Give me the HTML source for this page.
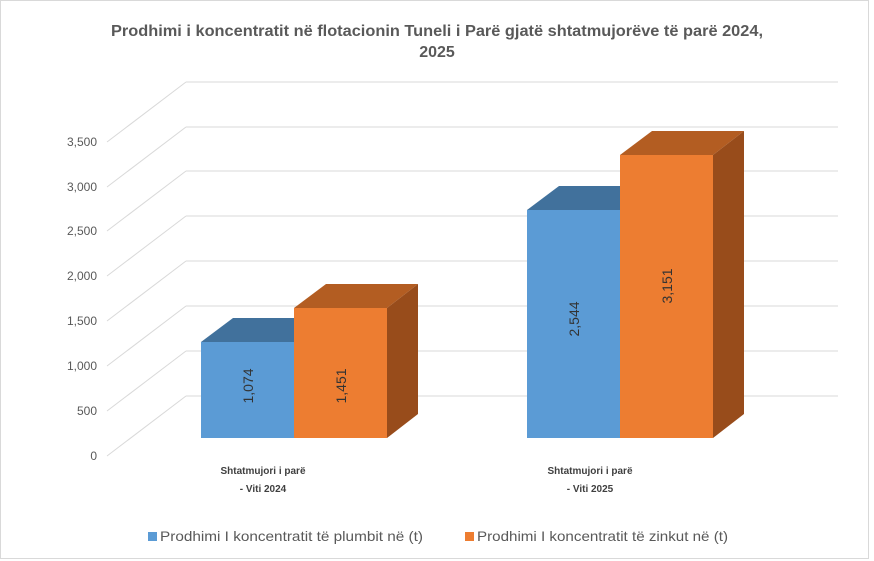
<!DOCTYPE html>
<html><head><meta charset="utf-8"><style>
html,body{margin:0;padding:0;background:#fff;}
svg{display:block;font-family:"Liberation Sans",sans-serif;}
</style></head><body>
<svg width="874" height="561" viewBox="0 0 874 561">
<rect x="0.5" y="0.5" width="868" height="558" fill="#fff" stroke="#d9d9d9"/>
<text x="437" y="36" text-anchor="middle" font-size="16" font-weight="bold" fill="#595959" textLength="652" lengthAdjust="spacingAndGlyphs">Prodhimi i koncentratit në flotacionin Tuneli i Parë gjatë shtatmujorëve të parë 2024,</text>
<text x="437" y="57" text-anchor="middle" font-size="16" font-weight="bold" fill="#595959">2025</text>
<g stroke="#d9d9d9" stroke-width="1" fill="none">
<path d="M186 82H838M186 127H838M186 171H838M186 216H838M186 261H838M186 306H838M186 351H838M186 396H838"/>
<path d="M186 82L107 142M186 127L107 187M186 171L107 231M186 216L107 276M186 261L107 321M186 306L107 366M186 351L107 411M186 396L107 456"/>
</g>
<g font-size="12" fill="#595959" text-anchor="end">
<text x="97" y="146">3,500</text><text x="97" y="191">3,000</text><text x="97" y="235">2,500</text><text x="97" y="280">2,000</text><text x="97" y="325">1,500</text><text x="97" y="370">1,000</text><text x="97" y="415">500</text><text x="97" y="460">0</text>
</g>
<polygon points="201,342 233,318 326,318 294,342" fill="#41719c"/>
<rect x="201" y="342" width="93" height="96" fill="#5b9bd5"/>
<polygon points="294,308 326,284 418,284 387,308" fill="#b35d22"/>
<polygon points="387,308 418,284 418,414 387,438" fill="#984c1b"/>
<rect x="294" y="308" width="93" height="130" fill="#ed7d31"/>
<polygon points="527,210 559,186 652,186 620,210" fill="#41719c"/>
<rect x="527" y="210" width="93" height="228" fill="#5b9bd5"/>
<polygon points="620,155 652,131 744,131 713,155" fill="#b35d22"/>
<polygon points="713,155 744,131 744,414 713,438" fill="#984c1b"/>
<rect x="620" y="155" width="93" height="283" fill="#ed7d31"/>
<g font-size="14" fill="#333" text-anchor="middle">
<text transform="translate(253,386) rotate(-90)">1,074</text>
<text transform="translate(346,386) rotate(-90)">1,451</text>
<text transform="translate(579,319) rotate(-90)">2,544</text>
<text transform="translate(672,286) rotate(-90)">3,151</text>
</g>
<g font-size="10" font-weight="bold" fill="#404040" text-anchor="middle">
<text x="263" y="474">Shtatmujori i parë</text><text x="263" y="492">- Viti 2024</text>
<text x="590" y="474">Shtatmujori i parë</text><text x="590" y="492">- Viti 2025</text>
</g>
<rect x="148" y="532" width="9" height="9" fill="#5b9bd5"/>
<text x="160" y="541" font-size="14" fill="#595959" textLength="263" lengthAdjust="spacingAndGlyphs">Prodhimi I koncentratit të plumbit në (t)</text>
<rect x="465" y="532" width="9" height="9" fill="#ed7d31"/>
<text x="477" y="541" font-size="14" fill="#595959" textLength="251" lengthAdjust="spacingAndGlyphs">Prodhimi I koncentratit të zinkut në (t)</text>
</svg>
</body></html>
